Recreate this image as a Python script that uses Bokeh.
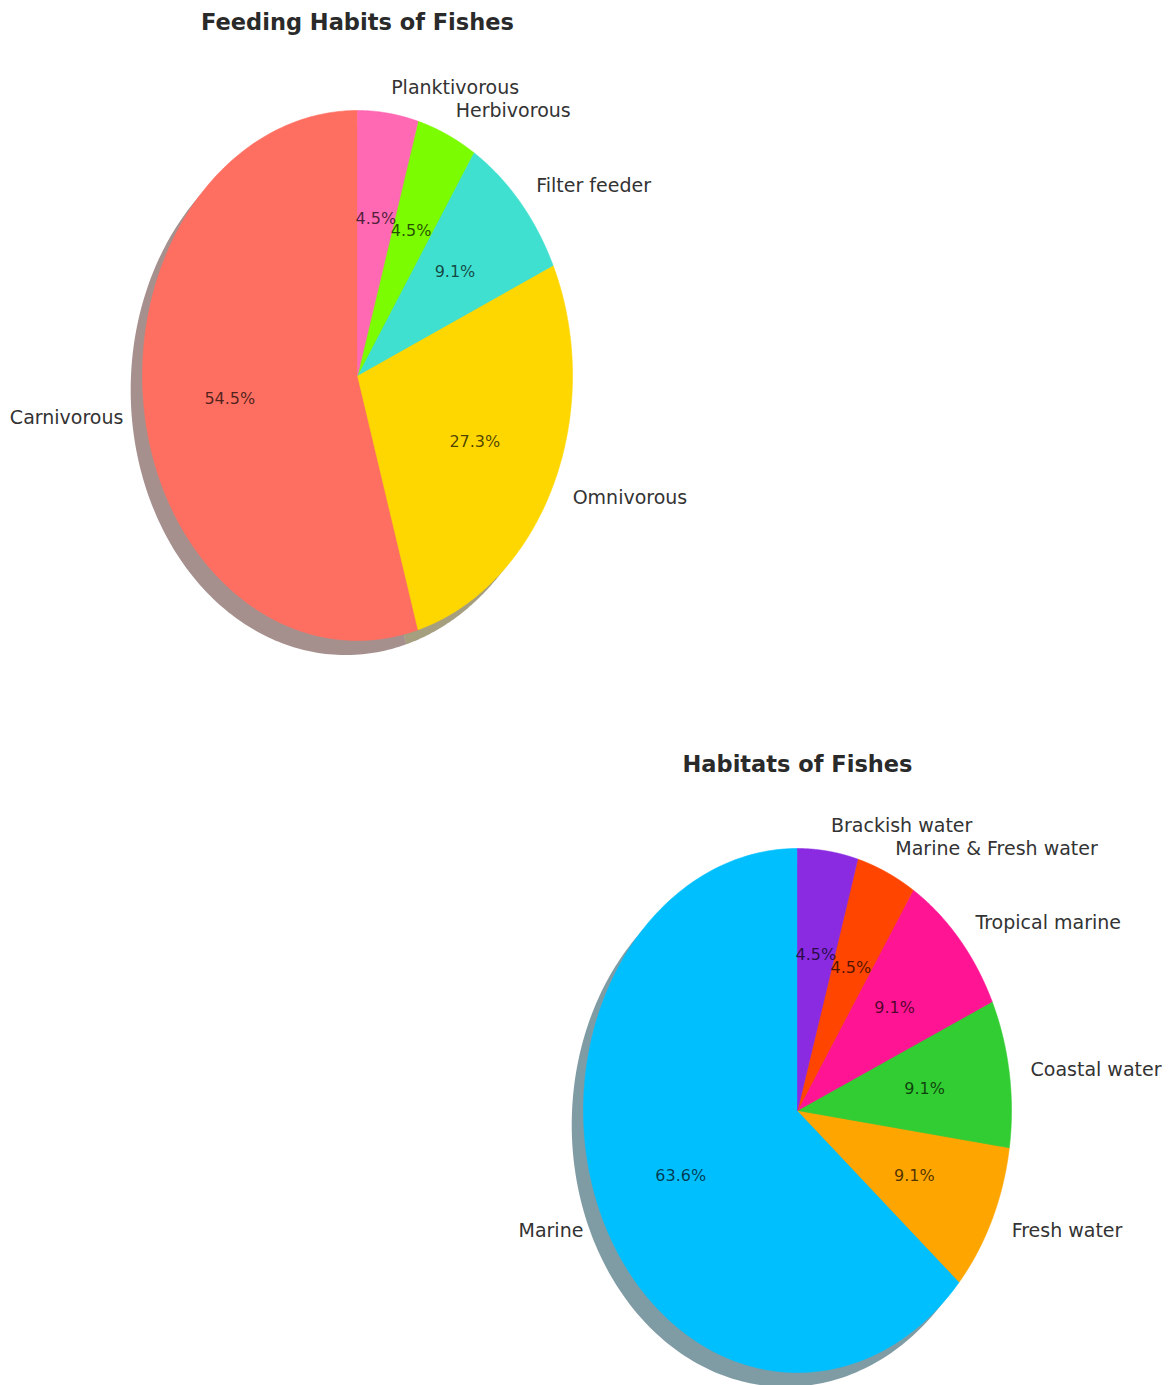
import numpy as np
from bokeh.plotting import figure
from bokeh.models import Range1d, ColumnDataSource
from bokeh.embed import file_html
from bokeh.resources import INLINE
from bokeh.core.properties import value

# ---------------- data ----------------
feeding_title = "Feeding Habits of Fishes"
feeding_labels = ["Carnivorous", "Omnivorous", "Filter feeder", "Herbivorous", "Planktivorous"]
feeding_counts = [12, 6, 2, 1, 1]
feeding_colors = ["#FF6F61", "#FFD700", "#40E0D0", "#7CFC00", "#FF69B4"]

habitat_title = "Habitats of Fishes"
habitat_labels = ["Marine", "Fresh water", "Coastal water", "Tropical marine",
                  "Marine & Fresh water", "Brackish water"]
habitat_counts = [14, 2, 2, 2, 1, 1]
habitat_colors = ["#00BFFF", "#FFA500", "#32CD32", "#FF1493", "#FF4500", "#8A2BE2"]

FONT = "DejaVu Sans"

W, H = 1170, 1385
p = figure(width=W, height=H, output_backend="svg", toolbar_location=None,
           x_range=Range1d(0, W), y_range=Range1d(H, 0),
           min_border=0, min_border_left=0, min_border_right=0,
           min_border_top=0, min_border_bottom=0)
p.axis.visible = False
p.grid.visible = False
p.outline_line_color = None
p.background_fill_color = "white"
p.border_fill_color = "white"


def shadow_color(hexc):
    h = hexc.lstrip("#")
    r, g, b = (int(h[i:i + 2], 16) for i in (0, 2, 4))
    return "#%02x%02x%02x" % (int(r * 0.3), int(g * 0.3), int(b * 0.3))


def draw_pie(labels, counts, colors, cx, cy, rx, ry, title, title_y):
    counts = np.asarray(counts, dtype=float)
    frac = counts / counts.sum()
    starts = 90 + 360 * np.concatenate([[0], np.cumsum(frac)[:-1]])
    ends = starts + 360 * frac
    wx, wy, sx, sy = [], [], [], []
    off_x, off_y = -0.055 * rx, 0.055 * ry
    for a0, a1 in zip(starts, ends):
        t = np.radians(np.linspace(a0, a1, 200))
        xs = np.concatenate([[cx], cx + rx * np.cos(t), [cx]])
        ys = np.concatenate([[cy], cy - ry * np.sin(t), [cy]])
        wx.append(list(xs)); wy.append(list(ys))
        sx.append(list(xs + off_x)); sy.append(list(ys + off_y))
    sh = ColumnDataSource(dict(xs=sx, ys=sy, c=[shadow_color(c) for c in colors]))
    p.patches("xs", "ys", source=sh, fill_color="c", fill_alpha=0.5, line_color=None)
    wd = ColumnDataSource(dict(xs=wx, ys=wy, c=list(colors)))
    p.patches("xs", "ys", source=wd, fill_color="c", line_color="c", line_width=0.6)

    mids = np.radians((starts + ends) / 2)
    lx = cx + 1.1 * rx * np.cos(mids)
    ly = cy - 1.1 * ry * np.sin(mids)
    align = ["left" if np.cos(m) > 0 else "right" for m in mids]
    ls = ColumnDataSource(dict(x=lx, y=ly, t=list(labels), a=align))
    p.text("x", "y", text="t", source=ls, text_align="a", text_baseline="middle",
           text_font=value(FONT), text_font_size="19px", text_color="#333333")

    px = cx + 0.6 * rx * np.cos(mids)
    py = cy - 0.6 * ry * np.sin(mids)
    pct = ["%.1f%%" % (f * 100) for f in frac]
    ps = ColumnDataSource(dict(x=px, y=py, t=pct))
    p.text("x", "y", text="t", source=ps, text_align="center", text_baseline="middle",
           text_font=value(FONT), text_font_size="16px", text_color="black", text_alpha=0.7)

    ts = ColumnDataSource(dict(x=[cx], y=[title_y], t=[title]))
    p.text("x", "y", text="t", source=ts, text_align="center", text_baseline="middle",
           text_font=value(FONT), text_font_size="22.5px", text_font_style="bold",
           text_color="#2a2a2a")


draw_pie(feeding_labels, feeding_counts, feeding_colors, 357, 375, 215, 265,
         feeding_title, 21)
draw_pie(habitat_labels, habitat_counts, habitat_colors, 797, 1110, 214, 262,
         habitat_title, 763)

open("out.html", "w").write(file_html(p, INLINE))
